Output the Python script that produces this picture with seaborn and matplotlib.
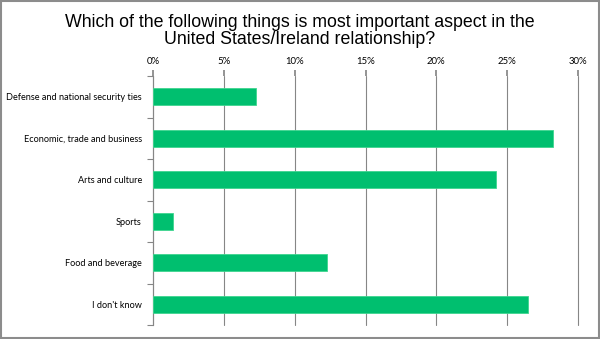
import matplotlib
matplotlib.use("Agg")
import matplotlib.pyplot as plt
import seaborn as sns
import pandas as pd
from matplotlib.ticker import FixedLocator, PercentFormatter

categories = [
    "Defense and national security ties",
    "Economic, trade and business",
    "Arts and culture",
    "Sports",
    "Food and beverage",
    "I don't know",
]
values = [7.3, 28.25, 24.2, 1.4, 12.3, 26.5]
x_ticks = [0, 5, 10, 15, 20, 25, 30]

title = "Which of the following things is most important aspect in the\nUnited States/Ireland relationship?"

sns.set_theme(style="white")
plt.rcParams["font.family"] = ["Lato", "DejaVu Sans"]
plt.rcParams["text.color"] = "#000000"

df = pd.DataFrame({"category": categories, "value": values})

fig = plt.figure(figsize=(6.0, 3.39), dpi=100)
ax = fig.add_axes([153 / 600, 1 - 325 / 339, (578 - 153) / 600, (325 - 76) / 339])

sns.barplot(data=df, x="value", y="category", orient="h", color="#00BF6F",
            saturation=1, width=0.4, ax=ax, edgecolor="#3FD58F", linewidth=0.6,
            zorder=3)

ax.set_xlim(0, 30)
ax.set_ylim(5.5, -0.5)
ax.xaxis.set_major_locator(FixedLocator(x_ticks))
ax.xaxis.set_major_formatter(PercentFormatter(decimals=0))
ax.xaxis.tick_top()
ax.grid(axis="x", color="#868686", linewidth=0.8, zorder=0)
for gl in ax.get_xgridlines():
    gl.set_clip_on(False)
ax.tick_params(axis="x", which="major", length=4, color="#868686", labelsize=6.9,
               pad=3, labelcolor="#000000", top=True, bottom=False)
ax.set_xlabel("")
ax.set_ylabel("")

ax.set_yticks(range(len(categories)))
ax.set_yticklabels(categories)
ax.tick_params(axis="y", which="major", length=0, labelsize=6.6, pad=8, labelcolor="#000000")
ax.set_yticks([i - 0.5 for i in range(len(categories) + 1)], minor=True)
ax.tick_params(axis="y", which="minor", length=4, color="#868686", width=0.8, left=True)

for s in ["top", "right", "bottom"]:
    ax.spines[s].set_visible(False)
ax.spines["left"].set_color("#868686")
ax.spines["left"].set_linewidth(0.8)

fig.text(0.5, 1 - 31 / 339, title, ha="center", va="center", fontsize=12.8,
         family=["Liberation Sans", "DejaVu Sans"], linespacing=0.98, color="#000000")

border = plt.Rectangle((0.0015, 0.0025), 0.997, 0.995, transform=fig.transFigure,
                       fill=False, edgecolor="#8C8C8C", linewidth=1.5)
fig.patches.append(border)

fig.savefig("out.png", dpi=100)
